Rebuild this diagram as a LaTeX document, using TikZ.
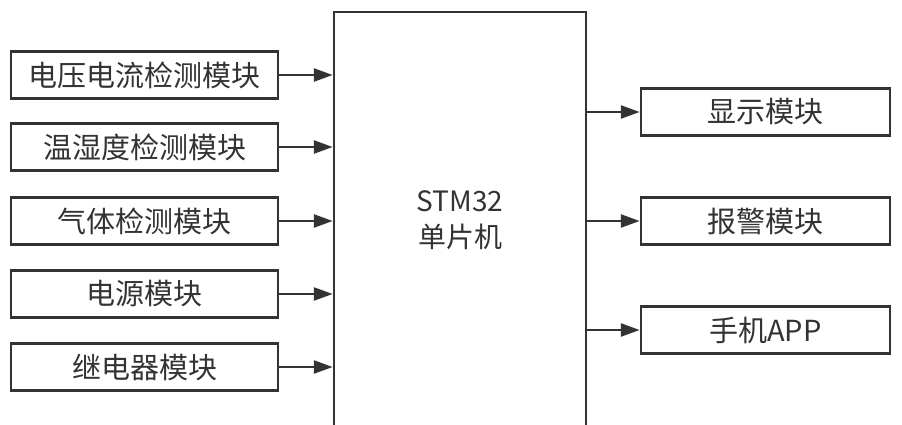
\documentclass[tikz,border=0pt]{standalone}
\usepackage{fontspec}
\setmainfont{Noto Sans CJK SC}
\usetikzlibrary{arrows.meta}
\begin{document}
\begin{tikzpicture}[x=1pt,y=-1pt,line cap=butt,line join=miter,
	box/.style={draw=black!80,line width=2.5pt,minimum height=47pt,inner sep=0pt,font=\fontsize{29}{35}\selectfont,text=black!80},
	lbox/.style={box,minimum width=267pt},
	rbox/.style={box,minimum width=249pt},
	arr/.style={draw=black!80,line width=2.5pt,-{Triangle[length=19pt,width=13pt]}}]
				\useasboundingbox (0,0) rectangle (902,425);
				\clip (0,0) rectangle (902,425);
				% main controller
				\node[draw=black!80,line width=2.5pt,minimum width=252pt,minimum height=448pt,inner sep=0pt] (mcu) at (460,236) {};
				\node[align=center,font=\fontsize{28}{36}\selectfont,text=black!80] (mcutext) at (460,220) {STM32\\单片机};
				% inputs
				\node[lbox] (vi) at (144.5,75) {电压电流检测模块};
				\node[lbox] (th) at (144.5,147) {温湿度检测模块};
				\node[lbox] (gas) at (144.5,221) {气体检测模块};
				\node[lbox] (pwr) at (144.5,294) {电源模块};
				\node[lbox] (relay) at (144.5,367) {继电器模块};
				% outputs
				\node[rbox] (disp) at (765.5,112) {显示模块};
				\node[rbox] (alarm) at (765.5,221) {报警模块};
				\node[rbox] (app) at (765.5,330) {手机APP};
				% arrows
				\draw[arr] (vi.east) -- (vi.east -| mcu.west);
				\draw[arr] (th.east) -- (th.east -| mcu.west);
				\draw[arr] (gas.east) -- (gas.east -| mcu.west);
				\draw[arr] (pwr.east) -- (pwr.east -| mcu.west);
				\draw[arr] (relay.east) -- (relay.east -| mcu.west);
				\draw[arr] (disp.west -| mcu.east) -- (disp.west);
				\draw[arr] (alarm.west -| mcu.east) -- (alarm.west);
				\draw[arr] (app.west -| mcu.east) -- (app.west);
\end{tikzpicture}
\end{document}
